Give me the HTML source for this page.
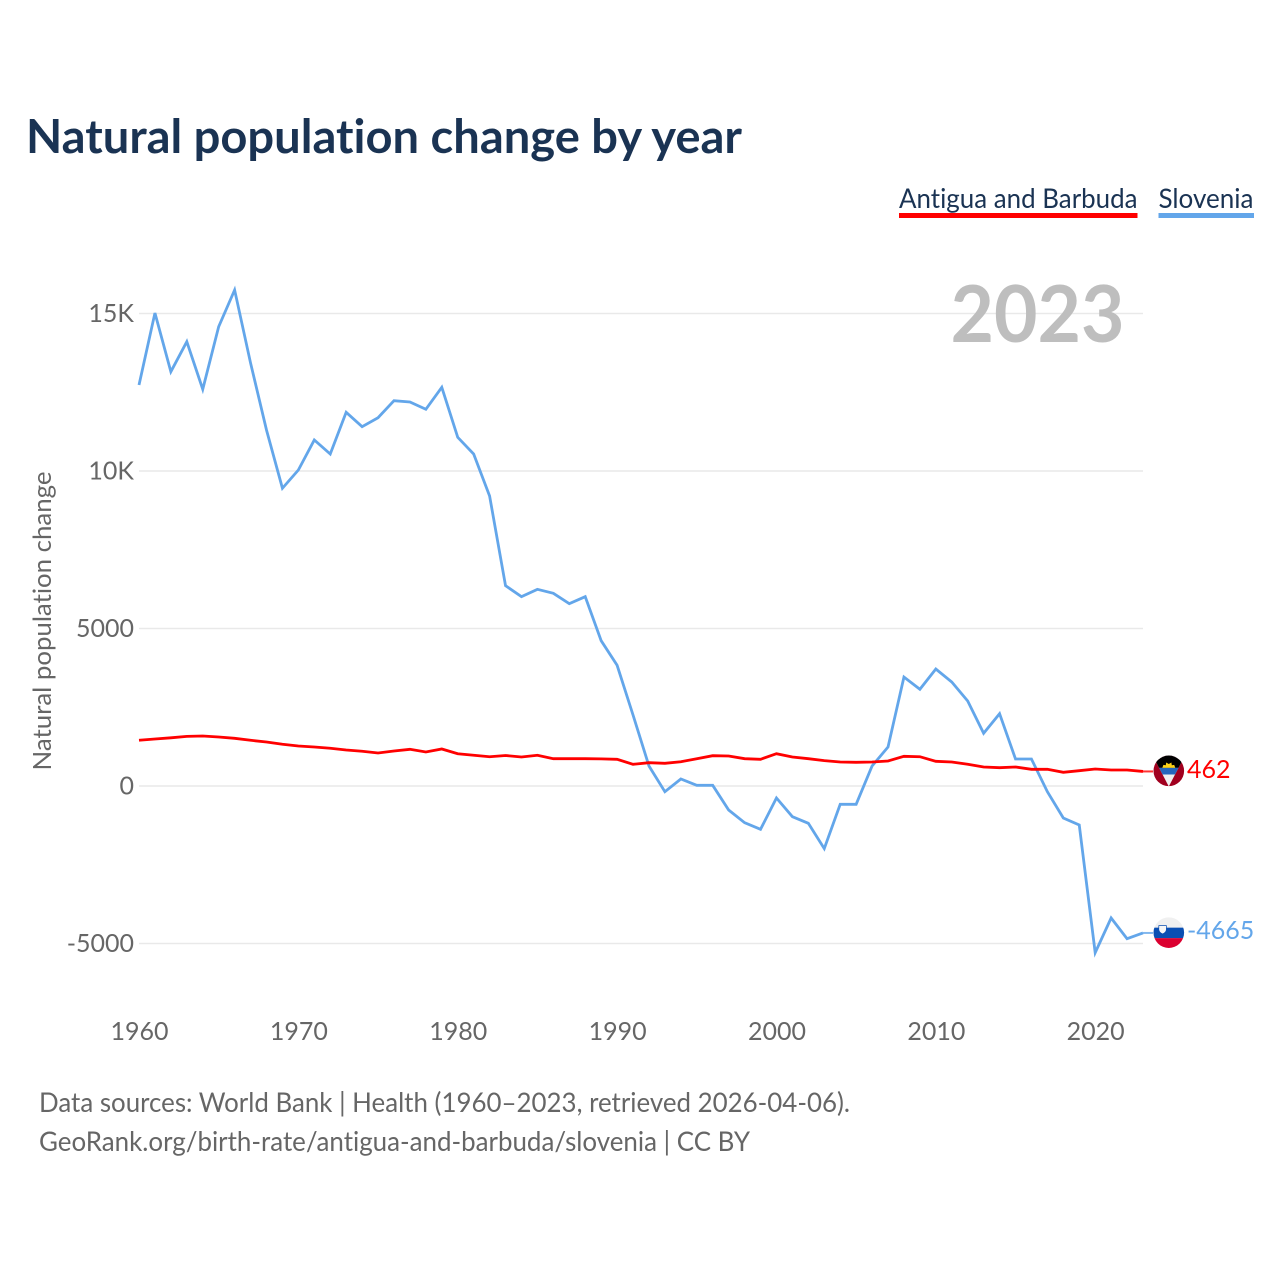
<!DOCTYPE html>
<html lang="en">
<head>
<meta charset="utf-8">
<title>Natural population change by year</title>
<style>
html,body{margin:0;padding:0;background:#fff;}
svg{display:block;}
text{font-family:"Lato","Carlito","Liberation Sans",sans-serif;font-variant-ligatures:none;}
</style>
</head>
<body>
<svg id="chart" xmlns="http://www.w3.org/2000/svg" width="1280" height="1280" viewBox="0 0 1280 1280">
  <rect x="0" y="0" width="1280" height="1280" fill="#ffffff"/>
  <text x="26" y="153" font-size="47" font-weight="700" fill="#1a3353" textLength="716" lengthAdjust="spacingAndGlyphs">Natural population change by year</text>

  <g>
    <g>
      <text x="899" y="208" font-size="27" fill="#1a3353" textLength="238.5" lengthAdjust="spacingAndGlyphs">Antigua and Barbuda</text>
      <rect x="899" y="213" width="238.5" height="5" fill="#ff0000"/>
    </g>
    <g>
      <text x="1158.5" y="208" font-size="27" fill="#1a3353" textLength="95" lengthAdjust="spacingAndGlyphs">Slovenia</text>
      <rect x="1158.5" y="213" width="95.5" height="5" fill="#63a6ea"/>
    </g>
  </g>

  <text transform="translate(51 621) rotate(-90)" text-anchor="middle" font-size="25" fill="#666666" textLength="299" lengthAdjust="spacingAndGlyphs">Natural population change</text>

  <g id="grid"></g>
  <g id="yaxis"></g>
  <g id="xaxis"></g>

  <text x="950.5" y="342" font-size="79" font-weight="700" fill="#bebebe" textLength="174" lengthAdjust="spacingAndGlyphs">2023</text>

  <g id="series"></g>

  <defs>
    <clipPath id="flag-clip"><circle cx="0" cy="0" r="15.3"/></clipPath>
  </defs>

  <g id="flag-ag">
    <g clip-path="url(#flag-clip)">
      <rect x="-16" y="-16" width="32" height="32" fill="#a1001f"/>
      <polygon points="-16.4,-16 16.4,-16 0,15.7" fill="#f0f0f0"/>
      <polygon points="-16.4,-16 16.4,-16 9.7,-3 -9.7,-3" fill="#000000"/>
      <polygon points="-6.5,-3 -5.4,-6 -3,-5.6 -2.6,-8.4 0,-6.8 2.6,-8.4 3,-5.6 5.4,-6 6.5,-3" fill="#fcd116"/>
      <polygon points="-9.7,-3 9.7,-3 6.2,3.7 -6.2,3.7" fill="#2566bd"/>
    </g>
  </g>
  <g id="flag-si">
    <g clip-path="url(#flag-clip)">
      <rect x="-16" y="-16" width="32" height="32" fill="#f0f0f0"/>
      <rect x="-16" y="-5" width="32" height="10.5" fill="#0a4fb3"/>
      <rect x="-16" y="5.5" width="32" height="11" fill="#db0030"/>
      <path d="M-10,-7 H-2.4 V-3 Q-2.8,0 -6.2,1.3 Q-9.6,0 -10,-3 Z" fill="#f6f6f6" stroke="#0a4fb3" stroke-width="0.7"/>
    </g>
  </g>
  <text id="label-ag" font-size="25" fill="#ff0000"></text>
  <text id="label-si" font-size="25" fill="#63a6ea"></text>

  <text x="39" y="1112" font-size="27" fill="#666666" textLength="811" lengthAdjust="spacingAndGlyphs">Data sources: World Bank | Health (1960–2023, retrieved 2026-04-06).</text>
  <text x="39" y="1151" font-size="27" fill="#666666" textLength="711" lengthAdjust="spacingAndGlyphs">GeoRank.org/birth-rate/antigua-and-barbuda/slovenia | CC BY</text>
</svg>
<script>
const startYear = 1960;
const slovenia = [12730,15016,13152,14105,12594,14581,15746,13429,11302,9451,
  10032,10984,10540,11864,11406,11692,12232,12190,11959,12657,
  11070,10540,9206,6359,6010,6244,6117,5787,6010,4613,
  3832,2254,635,-181,222,22,22,-762,-1165,-1375,
  -381,-975,-1184,-1987,-581,-581,635,1238,3460,3070,
  3714,3302,2698,1673,2295,857,857,-181,-1016,-1238,
  -5292,-4190,-4848,-4665];
const antigua = [1451,1492,1530,1575,1587,1556,1514,1451,1397,1324,
  1270,1238,1197,1143,1102,1048,1111,1165,1079,1175,
  1025,975,930,968,921,975,867,867,867,862,
  848,689,740,721,771,867,962,952,867,848,
  1025,921,867,806,762,752,762,794,943,930,
  784,762,689,603,581,603,530,530,435,486,
  540,508,508,462];
const yTickValues = [15000,10000,5000,0,-5000];
const yTickLabels = ['15K','10K','5000','0','-5000'];
const xTickValues = [1960,1970,1980,1990,2000,2010,2020];

const NS = 'http://www.w3.org/2000/svg';
function xScale(year){ return 139 + (year - 1960) * (1143 - 139) / 63; }
function yScale(value){ return 786 - value * 0.0315; }
function mk(tag, attrs){
  const el = document.createElementNS(NS, tag);
  for (const k in attrs) el.setAttribute(k, attrs[k]);
  return el;
}

const grid = document.getElementById('grid');
const yaxis = document.getElementById('yaxis');
yTickValues.forEach(function(v, i){
  const line = mk('line', {x1: 139, x2: 1143, y1: yScale(v), y2: yScale(v), stroke: '#e9e9e9', 'stroke-width': 1.4});
  
  
  grid.appendChild(line);
  const t = mk('text', {x: 134, y: yScale(v) + 8.5, 'text-anchor': 'end', 'font-size': 25, fill: '#666666'});
  
  
  t.textContent = yTickLabels[i];
  yaxis.appendChild(t);
});

const xaxis = document.getElementById('xaxis');
xTickValues.forEach(function(y){
  const t = mk('text', {x: xScale(y) + 0.5, y: 1040, 'text-anchor': 'middle', 'font-size': 25, fill: '#666666'});
  
  
  t.textContent = String(y);
  xaxis.appendChild(t);
});

function pathFor(values){
  return values.map(function(v, i){
    return (i ? 'L' : 'M') + xScale(startYear + i).toFixed(2) + ' ' + yScale(v).toFixed(2);
  }).join(' ');
}
const seriesGroup = document.getElementById('series');

const blueLine = mk('path', {d: pathFor(slovenia), fill: 'none', stroke: '#63a6ea', 'stroke-width': 2.8, 'stroke-linejoin': 'miter'});


seriesGroup.appendChild(blueLine);

const redLine = mk('path', {d: pathFor(antigua), fill: 'none', stroke: '#ff0000', 'stroke-width': 2.8, 'stroke-linejoin': 'miter'});


seriesGroup.appendChild(redLine);

const lastYear = startYear + slovenia.length - 1;
const blueEnd = mk('line', {x1: xScale(lastYear), x2: xScale(lastYear) + 10, y1: yScale(slovenia[slovenia.length - 1]), y2: yScale(slovenia[slovenia.length - 1]), stroke: '#63a6ea', 'stroke-width': 2, opacity: 0.8});


seriesGroup.appendChild(blueEnd);

const redEnd = mk('line', {x1: xScale(lastYear), x2: xScale(lastYear) + 10, y1: yScale(antigua[antigua.length - 1]), y2: yScale(antigua[antigua.length - 1]), stroke: '#ff0000', 'stroke-width': 2, opacity: 0.8});


seriesGroup.appendChild(redEnd);

const lastAg = antigua[antigua.length - 1];
const lastSi = slovenia[slovenia.length - 1];
document.getElementById('flag-ag').setAttribute('transform', 'translate(1168.8 ' + (yScale(lastAg) - 0.6) + ')');
document.getElementById('flag-si').setAttribute('transform', 'translate(1168.8 ' + (yScale(lastSi) - 0.3) + ')');
const labelAg = document.getElementById('label-ag');
labelAg.setAttribute('x', 1187);
labelAg.setAttribute('y', yScale(lastAg) + 6.5);
labelAg.textContent = String(lastAg);
const labelSi = document.getElementById('label-si');
labelSi.setAttribute('x', 1187);
labelSi.setAttribute('y', yScale(lastSi) + 6);
labelSi.textContent = String(lastSi);
</script>
</body>
</html>
